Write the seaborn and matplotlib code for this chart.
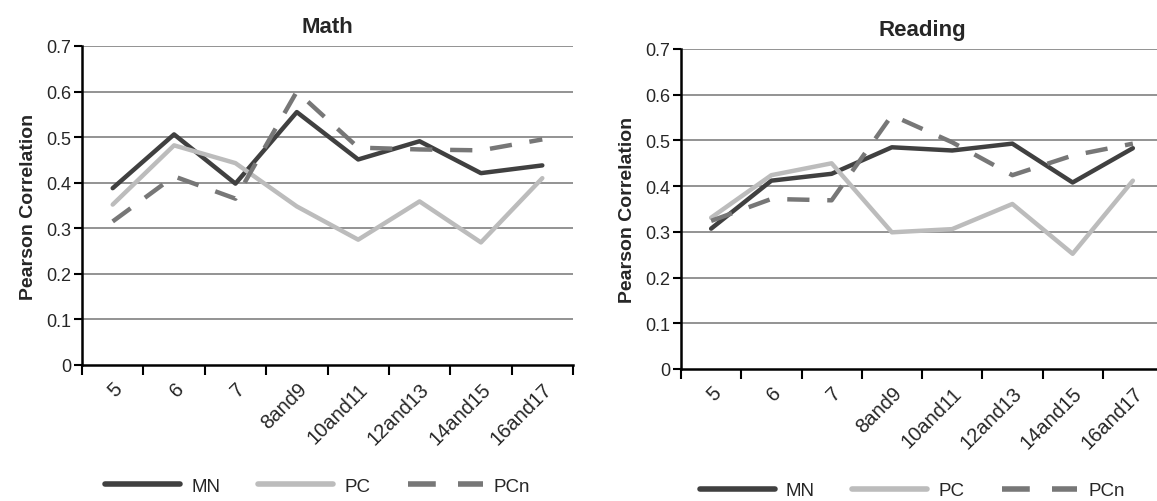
import matplotlib

matplotlib.use("Agg")

import matplotlib.pyplot as plt
import pandas as pd
import seaborn as sns


# Data
grades = ["5", "6", "7", "8and9", "10and11", "12and13", "14and15", "16and17"]

math_mn = [0.388, 0.506, 0.398, 0.555, 0.451, 0.491, 0.421, 0.438]
math_pc = [0.352, 0.482, 0.443, 0.348, 0.275, 0.359, 0.269, 0.410]
math_pcn = [0.315, 0.414, 0.365, 0.600, 0.477, 0.473, 0.471, 0.495]

reading_mn = [0.307, 0.412, 0.427, 0.485, 0.478, 0.493, 0.408, 0.483]
reading_pc = [0.331, 0.424, 0.450, 0.299, 0.306, 0.361, 0.252, 0.412]
reading_pcn = [0.324, 0.372, 0.369, 0.555, 0.496, 0.424, 0.467, 0.493]

series_names = ["MN", "PC", "PCn"]
colors = {"MN": "#404040", "PC": "#bcbcbc", "PCn": "#777777"}
dashes = {"MN": "", "PC": "", "PCn": (5, 4)}


def to_long(mn, pc, pcn):
    rows = []
    for name, vals in zip(series_names, [mn, pc, pcn]):
        for i, v in enumerate(vals):
            rows.append({"pos": i, "grade": grades[i], "series": name, "value": v})
    return pd.DataFrame(rows)


sns.set_theme(style="white")
plt.rcParams["font.family"] = ["Liberation Sans", "DejaVu Sans"]

fig = plt.figure(figsize=(11.57, 5.02), dpi=100)
W, H = 1157, 502
ax_math = fig.add_axes([82 / W, 1 - 366 / H, (573 - 82) / W, (366 - 47) / H])
ax_read = fig.add_axes([681 / W, 1 - 370 / H, (1163 - 681) / W, (370 - 50) / H])

panels = [
    (ax_math, "Math", to_long(math_mn, math_pc, math_pcn)),
    (ax_read, "Reading", to_long(reading_mn, reading_pc, reading_pcn)),
]

for ax, title, df in panels:
    for y in [0.1, 0.2, 0.3, 0.4, 0.5, 0.6, 0.7]:
        ax.axhline(y, color="#8a8a8a", linewidth=1.3, zorder=0)

    sns.lineplot(
        data=df,
        x="pos",
        y="value",
        hue="series",
        style="series",
        palette=colors,
        dashes=dashes,
        linewidth=3.2,
        legend=False,
        ax=ax,
    )

    ax.set_xlim(-0.5, 7.5)
    ax.set_ylim(0, 0.7)
    ax.set_yticks([0, 0.1, 0.2, 0.3, 0.4, 0.5, 0.6, 0.7])
    ax.set_yticklabels(["0", "0.1", "0.2", "0.3", "0.4", "0.5", "0.6", "0.7"])
    ax.set_xticks(range(len(grades)))
    ax.set_xticklabels(grades, rotation=45, ha="right", rotation_mode="anchor")
    ax.set_xticks([i - 0.5 for i in range(len(grades) + 1)], minor=True)
    ax.tick_params(axis="x", which="major", bottom=True, length=0, pad=10, labelsize=14.5)
    ax.tick_params(axis="x", which="minor", bottom=True, length=7, width=1.5,
                   direction="out", color="black")
    ax.tick_params(axis="y", left=True, length=6, width=1.5, direction="out",
                   color="black", labelsize=13, pad=2)

    for side in ["top", "right"]:
        ax.spines[side].set_visible(False)
    for side in ["left", "bottom"]:
        ax.spines[side].set_color("black")
        ax.spines[side].set_linewidth(1.8)

    ax.set_title(title, fontsize=16, fontweight="bold", pad=10)
    ax.set_xlabel("")
    ax.set_ylabel("Pearson Correlation", fontsize=14, fontweight="bold", labelpad=6)

    handles = ax.lines[-3:]
    leg = ax.legend(
        handles,
        series_names,
        loc="center",
        bbox_to_anchor=(0.48, -0.38),
        ncol=3,
        frameon=False,
        fontsize=13.5,
        handlelength=4.0,
        columnspacing=2.0,
        handletextpad=0.6,
    )
    for line in leg.get_lines():
        line.set_linewidth(4)

fig.savefig("out.png", dpi=100)
